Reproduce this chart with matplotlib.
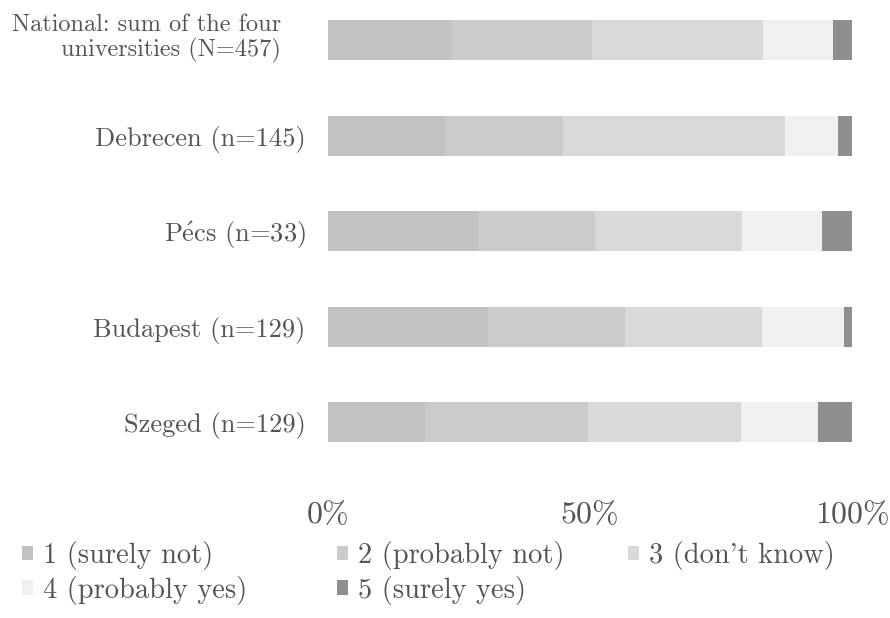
import numpy as np
import matplotlib.pyplot as plt
from matplotlib.transforms import ScaledTranslation

plt.rcParams['font.family'] = ['cmr10', 'DejaVu Serif']
plt.rcParams['mathtext.fontset'] = 'cm'
plt.rcParams['axes.unicode_minus'] = False

groups = ['National: sum of the four\nuniversities (N=457)', 'Debrecen (n=145)',
          'P$\\mathrm{\\acute{e}}$cs (n=33)', 'Budapest (n=129)', 'Szeged (n=129)']
answers = ['1 (surely not)', '2 (probably not)', "3 (don't know)",
           '4 (probably yes)', '5 (surely yes)']
# share of answers (%) per group
surely_not = [23.7, 22.3, 28.6, 30.5, 18.5]
probably_not = [26.7, 22.5, 22.3, 26.1, 31.1]
dont_know = [32.6, 42.4, 28.2, 26.3, 29.2]
probably_yes = [13.4, 10.1, 15.1, 15.6, 14.7]
surely_yes = [3.6, 2.7, 5.8, 1.5, 6.5]
ticks = [0, 50, 100]
tick_labels = ['0%', '50%', '100%']

series = [surely_not, probably_not, dont_know, probably_yes, surely_yes]
colors = ['#c2c2c2', '#cbcbcb', '#d9d9d9', '#f0f0f0', '#8e8e8e']
txt = '#555555'

fig = plt.figure(figsize=(8.9, 6.18), dpi=100)
ax = fig.add_axes([328 / 890, 1 - 470 / 618, 524 / 890, 470 / 618])

y = np.arange(len(groups))
left = np.zeros(len(groups))
handles = []
for vals, c, lab in zip(series, colors, answers):
    b = ax.barh(y, vals, left=left, height=0.42, color=c, label=lab)
    handles.append(b)
    left += np.array(vals)

ax.set_ylim(4.5, -0.42)
ax.set_xlim(0, 100)
ax.set_yticks(y)
ax.set_yticklabels(groups, fontsize=19, color=txt, multialignment='right',
                   linespacing=1.1)
ax.set_xticks(ticks)
ax.set_xticklabels(tick_labels, fontsize=23, color=txt)
ax.tick_params(axis='x', length=0, pad=23)
ax.tick_params(axis='y', length=0, pad=16)
for s in ax.spines.values():
    s.set_visible(False)

# the two-line label is a bit smaller and further left in the original
first = ax.get_yticklabels()[0]
first.set_fontsize(17.5)
first.set_transform(first.get_transform() + ScaledTranslation(-0.25, 0.06, fig.dpi_scale_trans))

# legend laid out row by row: three columns placed like the original
columns = [[0, 3], [1, 4], [2]]
col_x = [22, 337, 628]
for idx, cx in zip(columns, col_x):
    leg = fig.legend([handles[i] for i in idx], [answers[i] for i in idx],
                     loc='upper left', bbox_to_anchor=(cx / 890, 1 - 541 / 618),
                     frameon=False, fontsize=20.5, handlelength=0.4, handleheight=0.4,
                     handletextpad=0.35, labelspacing=0.2,
                     borderaxespad=0, borderpad=0)
    for t in leg.get_texts():
        t.set_color(txt)

fig.savefig('out.png', dpi=100)
